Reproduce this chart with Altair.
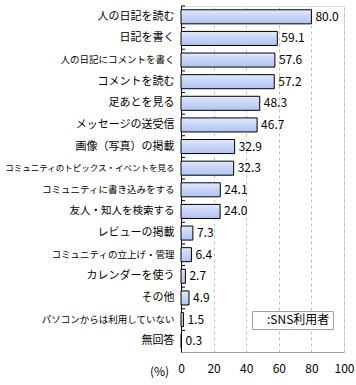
import altair as alt
import pandas as pd

categories = [
    "人の日記を読む", "日記を書く", "人の日記にコメントを書く", "コメントを読む",
    "足あとを見る", "メッセージの送受信", "画像（写真）の掲載",
    "コミュニティのトピックス・イベントを見る", "コミュニティに書き込みをする",
    "友人・知人を検索する", "レビューの掲載", "コミュニティの立上げ・管理",
    "カレンダーを使う", "その他", "パソコンからは利用していない", "無回答",
]
values = [80.0, 59.1, 57.6, 57.2, 48.3, 46.7, 32.9, 32.3, 24.1, 24.0, 7.3, 6.4, 2.7, 4.9, 1.5, 0.3]
series = "SNS利用者"
x_ticks = [0, 20, 40, 60, 80, 100]

df = pd.DataFrame({"cat": categories, "val": values, "series": series})

W, H = 163, 346
FONT = "Noto Sans CJK JP"

label_size = {
    "condition": [
        {"test": "length(datum.label) >= 18", "value": 8.5},
        {"test": "length(datum.label) >= 12", "value": 9.5},
        {"test": "length(datum.label) >= 10", "value": 10.5},
    ],
    "value": 11,
}

y_axis = alt.Axis(
    domainColor="black", domainWidth=1, ticks=False, labelPadding=7,
    labelFont=FONT, labelColor="black", labelLimit=200,
    labelFontSize=label_size,
)
x_axis = alt.Axis(
    values=x_ticks, ticks=False, domainColor="#a0a0a0", labelPadding=11,
    labelOverlap=False, labelFlush=False,
    labelFont=FONT, labelFontSize=12, labelColor="black",
    grid=True, gridDash=[3, 3], gridColor="#c0c0c0",
    titleFont=FONT, titleFontSize=12, titleFontWeight="normal", titleColor="black",
    titleX=-22, titleY=19, titleAngle=0, titleBaseline="middle", titleAlign="center",
)
x_scale = alt.Scale(domain=[0, 100], nice=False)
y_scale = alt.Scale(paddingInner=0.35, paddingOuter=0.175)

grad = alt.LinearGradient(
    gradient="linear", x1=0, y1=0, x2=0, y2=1,
    stops=[
        alt.GradientStop(color="#e4eafc", offset=0),
        alt.GradientStop(color="#c6d3f7", offset=0.5),
        alt.GradientStop(color="#b2c3f2", offset=1),
    ],
)

base = alt.Chart(df)

bars = base.mark_bar(color=grad, stroke="black", strokeWidth=1).encode(
    x=alt.X("val:Q", title="(%)", scale=x_scale, axis=x_axis),
    y=alt.Y("cat:N", sort=categories, title=None, scale=y_scale, axis=y_axis),
)

labels = base.mark_text(align="left", baseline="middle", dx=4, font=FONT, fontSize=12, color="black").encode(
    x=alt.X("val:Q", title="(%)", scale=x_scale, axis=x_axis),
    y=alt.Y("cat:N", sort=categories, title=None, scale=y_scale, axis=y_axis),
    text=alt.Text("val:Q", format=".1f"),
)

ticks = base.mark_rule(yOffset=-(H / 16) / 2, strokeWidth=1).encode(
    y=alt.Y("cat:N", sort=categories, title=None, scale=y_scale, axis=y_axis),
    x=alt.value(0), x2=alt.value(4),
    color=alt.Color(
        "series:N", scale=alt.Scale(range=["black"]),
        legend=alt.Legend(
            title=None, orient="none", legendX=71, legendY=305,
            symbolSize=0, symbolStrokeWidth=0, labelOffset=0,
            labelExpr="':' + datum.label", labelFont=FONT, labelFontSize=12, labelColor="black",
            strokeColor="#a0a0a0", fillColor="white", padding=3, cornerRadius=0,
        ),
    ),
)

chart = (
    alt.layer(bars, labels, ticks)
    .properties(width=W, height=H, padding={"left": 181, "top": 6, "right": 12, "bottom": 33}, autosize="none")
    .configure_view(stroke="#a0a0a0", strokeWidth=1)
    .configure_axisX(labelOverlap=False)
    .configure(background="white")
)

chart.save("out.html", embed_options={"renderer": "svg", "actions": False})
